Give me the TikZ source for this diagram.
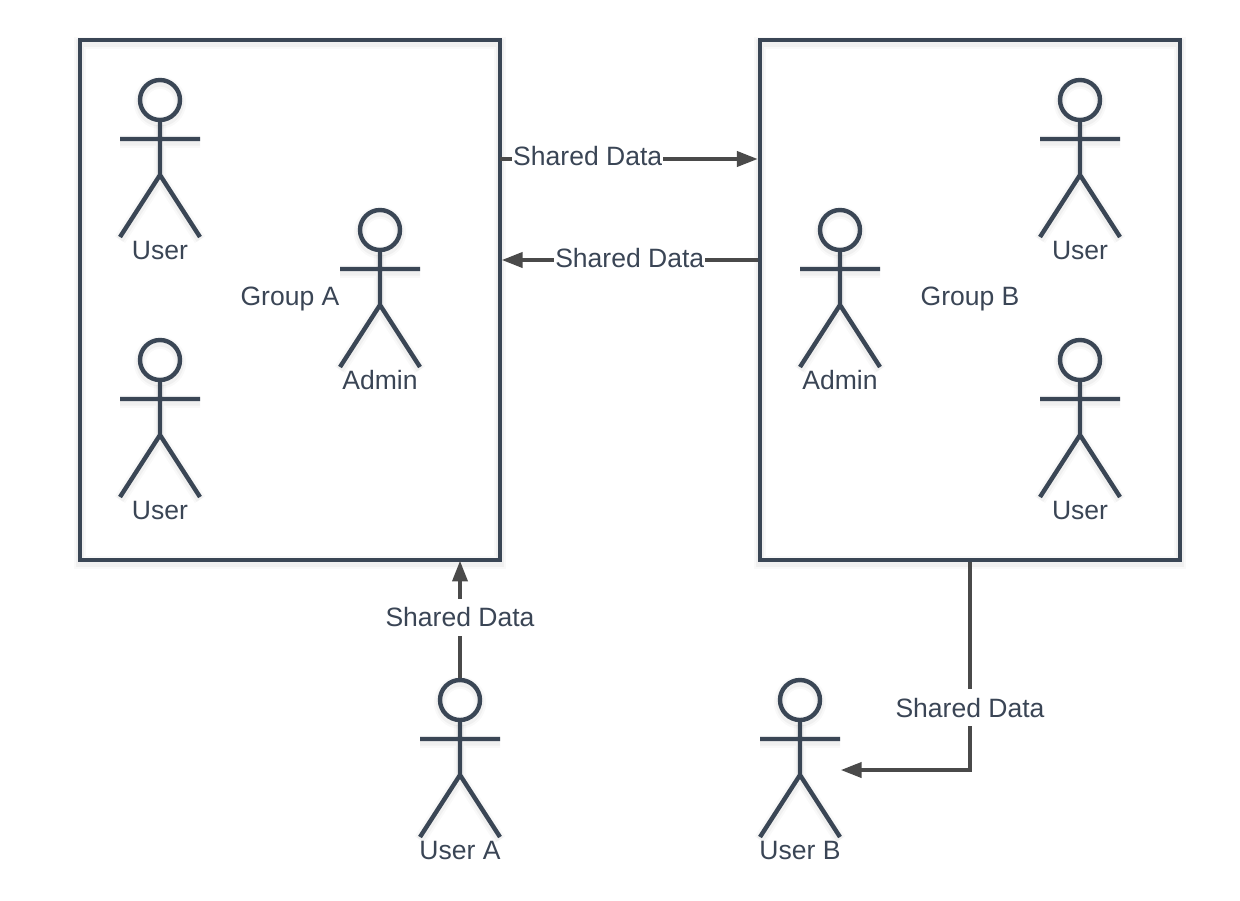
\documentclass[tikz,border=0pt]{standalone}
\usepackage{fontspec}
\setmainfont{Liberation Sans}
\usetikzlibrary{arrows.meta,shapes,positioning}
\definecolor{linegrey}{HTML}{3A4655}
\definecolor{arrowgrey}{HTML}{4A4A4A}
\definecolor{textgrey}{HTML}{3A4555}
\tikzset{
  softshade/.style={
    preaction={draw=black,draw opacity=.025,line width=7pt,transform canvas={yshift=-1.5pt}},
    preaction={draw=black,draw opacity=.035,line width=4.5pt,transform canvas={yshift=-1.5pt}}},
  actor/.pic={
    \node[circle,draw=linegrey,line width=2.5pt,minimum size=0.8cm,inner sep=0pt,softshade] (-head) at (0,0) {};
    \draw[line width=2.5pt,draw=linegrey,softshade] (-head.south) -- (0,75) (-40,39) -- (40,39)
        (-40,137) -- (0,75) -- (40,137);
    \coordinate (-hand) at (40.5,70);
    \node[text=textgrey,font=\fontsize{15.1}{18}\selectfont,inner sep=0pt] (-label) at (0,150) {#1};
  },
  groupbox/.style={draw=linegrey,line width=2.5pt,minimum width=8.4cm,minimum height=10.4cm,
    text=textgrey,font=\fontsize{15.1}{18}\selectfont,inner sep=0pt,text depth=4.2pt,softshade},
  datalabel/.style={fill=white,text=textgrey,font=\fontsize{15.1}{18}\selectfont,inner xsep=0.5pt,inner ysep=5pt},
  dataflow/.style={-{Triangle[length=12pt,width=8.4pt]},line width=2.5pt,draw=arrowgrey}
}

\begin{document}
\begin{tikzpicture}[x=0.02cm,y=-0.02cm]
\useasboundingbox (0,0) rectangle (1240,900);
\node[groupbox] (groupA) at (290,300) {Group A};
\node[groupbox] (groupB) at (970,300) {Group B};

\pic (userOne) at (160,100) {actor=User};
\pic (userTwo) at (160,360) {actor=User};
\pic (adminA) at (380,230) {actor=Admin};
\pic (adminB) at (840,230) {actor=Admin};
\pic (userThree) at (1080,100) {actor=User};
\pic (userFour) at (1080,360) {actor=User};
\pic (userA) at (460,700) {actor=User A};
\pic (userB) at (800,700) {actor=User B};

\coordinate (outA) at (500,159);
\coordinate (inB) at (758,159);
\coordinate (outB) at (758,260);
\coordinate (inA) at (501.5,260);

\draw[dataflow] (outA) -- node[datalabel,pos=.34,yshift=1.5pt] (shareAB) {Shared Data} (inB);
\draw[dataflow] (outB) -- node[datalabel,yshift=1.4pt] (shareBA) {Shared Data} (inA);
\draw[dataflow,shorten >=-1pt] (userA-head) -- node[datalabel,pos=.53,yshift=-0.4pt] (shareUA) {Shared Data} (userA-head |- groupA.south);
\draw[dataflow] (groupB.south) |- node[datalabel,pos=.35] (shareUB) {Shared Data} (userB-hand);
\end{tikzpicture}
\end{document}
